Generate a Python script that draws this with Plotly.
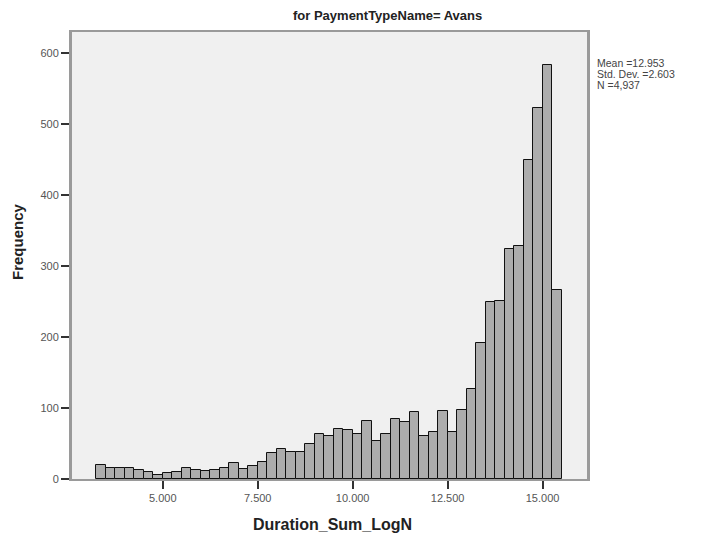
import plotly.graph_objects as go

# Histogram data
bin_start = 3.25
bin_width = 0.25
counts = [20, 15, 15, 15, 13, 10, 5, 9, 10, 16,
          12, 11, 13, 16, 22, 14, 18, 24, 36, 42,
          38, 38, 50, 64, 61, 70, 69, 64, 82, 54,
          64, 84, 80, 95, 61, 66, 96, 66, 97, 127,
          191, 250, 251, 324, 328, 449, 523, 583, 267]

x_tickvals = [5.0, 7.5, 10.0, 12.5, 15.0]
x_ticktext = ["5.000", "7.500", "10.000", "12.500", "15.000"]
y_tickvals = [0, 100, 200, 300, 400, 500, 600]

title_text = "for PaymentTypeName= Avans"
x_title = "Duration_Sum_LogN"
y_title = "Frequency"
stats_lines = ["Mean =12.953", "Std. Dev. =2.603", "N =4,937"]

centers = [bin_start + bin_width * (i + 0.5) for i in range(len(counts))]

fig = go.Figure()
fig.add_trace(go.Bar(
    x=centers, y=counts, width=bin_width,
    marker=dict(color="#adadad", line=dict(color="#111111", width=1)),
    hoverinfo="x+y",
))

FONT = "Liberation Sans, Arial, sans-serif"

annotations = [
    dict(text="<b>" + title_text + "</b>", xref="paper", yref="paper",
         x=(387 - 72) / 515, y=1.0, yshift=17, showarrow=False,
         font=dict(size=13, color="#222", family=FONT),
         xanchor="center", yanchor="middle"),
    dict(text="<b>" + x_title + "</b>", xref="paper", yref="paper",
         x=(332 - 72) / 515, y=0, yshift=-45, showarrow=False,
         font=dict(size=16, color="#222", family=FONT),
         xanchor="center", yanchor="middle"),
    dict(text="<b>" + y_title + "</b>", xref="paper", yref="paper",
         x=0, xshift=-55, y=(479 - 242) / 447, showarrow=False,
         textangle=-90,
         font=dict(size=15, color="#222", family=FONT),
         xanchor="center", yanchor="middle"),
]
for i, line in enumerate(stats_lines):
    annotations.append(dict(
        text=line, xref="paper", yref="paper",
        x=1.0, xshift=8, y=(479 - 63 - 11 * i) / 447, showarrow=False,
        align="left",
        font=dict(size=10.5, color="#444", family=FONT),
        xanchor="left", yanchor="middle"))

fig.update_layout(
    width=701, height=536,
    margin=dict(l=72, r=114, t=32, b=57),
    paper_bgcolor="white",
    plot_bgcolor="#f0f0f0",
    bargap=0,
    showlegend=False,
    font=dict(family=FONT, color="#333"),
    xaxis=dict(
        range=[2.61, 16.17],
        tickvals=x_tickvals, ticktext=x_ticktext,
        ticks="outside", ticklen=8, tickwidth=1.5, tickcolor="#333",
        tickfont=dict(size=11, color="#555"),
        showgrid=False, zeroline=False,
        showline=True, linecolor="#9a9a9a", linewidth=2, mirror=True,
    ),
    yaxis=dict(
        range=[0, 630],
        tickvals=y_tickvals,
        ticks="outside", ticklen=8, tickwidth=1.5, tickcolor="#333",
        tickfont=dict(size=11, color="#555"),
        showgrid=False, zeroline=False,
        showline=True, linecolor="#9a9a9a", linewidth=3, mirror=True,
    ),
    annotations=annotations,
)

fig.write_html("out.html")
